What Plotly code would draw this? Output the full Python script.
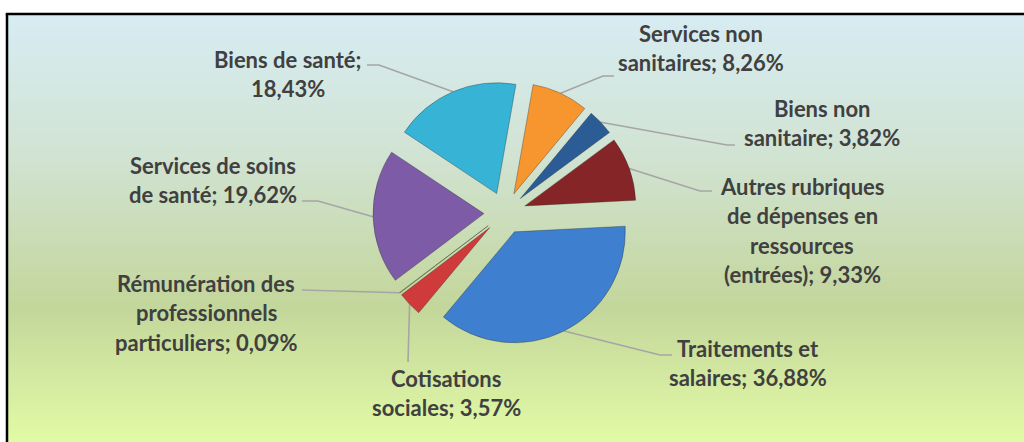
import math
import plotly.graph_objects as go

# ---------------- data ----------------
categories = [
    "Services non sanitaires",
    "Biens non sanitaire",
    "Autres rubriques de dépenses en ressources (entrées)",
    "Traitements et salaires",
    "Cotisations sociales",
    "Rémunération des professionnels particuliers",
    "Services de soins de santé",
    "Biens de santé",
]
values = [8.26, 3.82, 9.33, 36.88, 3.57, 0.09, 19.62, 18.43]

# label text, split over lines ("{v}" is replaced by the formatted value)
label_lines = [
    ["Services non", "sanitaires; {v}"],
    ["Biens non", "sanitaire; {v}"],
    ["Autres rubriques", "de dépenses en", "ressources", "(entrées); {v}"],
    ["Traitements et", "salaires; {v}"],
    ["Cotisations", "sociales; {v}"],
    ["Rémunération des", "professionnels", "particuliers; {v}"],
    ["Services de soins", "de santé; {v}"],
    ["Biens de santé;", "{v}"],
]

# ---------------- styling / layout ----------------
colors = ["#f7962f", "#2b5c96", "#862527", "#3f7fcf",
          "#cf3b3b", "#9bbb59", "#7d5ba6", "#37b3d5"]

W, H = 1024, 442
CX, CY = 505, 213          # pie centre (px)
R_DOM = 132                # half size of the pie domain (px)
PULL = 0.19
ROT = 10                   # degrees, clockwise from 12 o'clock
R = R_DOM / (1 + PULL)

# label placement: (centre x, y of first line)
label_pos = [(701, 33), (822, 108), (802, 186), (748, 348),
             (446, 378), (206, 283), (213, 165), (288, 59)]
LINE_H = 29.5
# leader line: label-side start point and optional elbow
leader_start = [(614, 76), (735, 145), (712, 191), (672, 355),
                (408, 362), (302, 290), (302, 201), (367, 65)]
leader_elbow = [(603, 76), (727, 145), (700, 191), (660, 355),
                None, None, (318, 201), (379, 65)]

fig = go.Figure()

# leader lines on a pixel-coordinate overlay axis
total = sum(values)
lx, ly = [], []
cum = 0.0
for i, v in enumerate(values):
    mid = math.radians(ROT + (cum + v / 2) / total * 360)
    cum += v
    d = R * (1 + PULL)
    ax_, ay_ = CX + d * math.sin(mid), CY - d * math.cos(mid)
    pts = [leader_start[i]]
    if leader_elbow[i] is not None:
        pts.append(leader_elbow[i])
    pts.append((ax_, ay_))
    for p in pts:
        lx.append(p[0]); ly.append(p[1])
    lx.append(None); ly.append(None)

fig.add_trace(go.Scatter(x=lx, y=ly, mode="lines",
                         line=dict(color="#a5a5a5", width=1.6),
                         hoverinfo="skip", showlegend=False))

fig.add_trace(go.Pie(
    labels=categories, values=values, sort=False, direction="clockwise",
    rotation=ROT, pull=[PULL] * len(values),
    marker=dict(colors=colors, line=dict(color="rgba(40,40,40,0.35)", width=1)),
    textinfo="none", hoverinfo="label+percent", showlegend=False,
    domain=dict(x=[(CX - R_DOM) / W, (CX + R_DOM) / W],
                y=[(H - CY - R_DOM) / H, (H - CY + R_DOM) / H]),
))

# labels
for i, lines in enumerate(label_lines):
    vtxt = f"{values[i]:.2f}".replace(".", ",") + "%"
    x0, y0 = label_pos[i]
    for k, ln in enumerate(lines):
        fig.add_annotation(x=x0, y=y0 + k * LINE_H, xref="x", yref="y",
                           text=ln.replace("{v}", vtxt), showarrow=False,
                           xanchor="center", yanchor="middle",
                           font=dict(family="Lato", size=22, color="#404040",
                                     weight="bold"))

# background gradient (paper coordinates, y measured from the bottom)
stops = [(0.0, (215, 236, 243)), (0.33, (209, 227, 210)),
         (0.68, (195, 214, 155)), (1.0, (226, 251, 166))]


def col_at(t):
    for (t0, c0), (t1, c1) in zip(stops[:-1], stops[1:]):
        if t <= t1:
            f = (t - t0) / (t1 - t0)
            return "rgb(%d,%d,%d)" % tuple(round(a + (b - a) * f) for a, b in zip(c0, c1))
    return "rgb(%d,%d,%d)" % stops[-1][1]


TOP = 14
LEFT = 7
BW = 2.5   # frame thickness


def px(xp):
    return xp / W


def py(yp):
    return 1 - yp / H


shapes = []
step = 3
y = TOP
while y < H:
    t = (y - TOP) / (H - TOP)
    y1 = min(y + step + 0.5, H)
    shapes.append(dict(type="rect", xref="paper", yref="paper",
                       x0=px(LEFT), x1=1.0, y0=py(y), y1=py(y1),
                       fillcolor=col_at(t), line=dict(width=0), layer="below"))
    y += step
# frame: top and left edges only
shapes.append(dict(type="line", xref="paper", yref="paper",
                   x0=px(LEFT - BW / 2), x1=1.0, y0=py(TOP), y1=py(TOP),
                   line=dict(color="black", width=BW), layer="above"))
shapes.append(dict(type="line", xref="paper", yref="paper",
                   x0=px(LEFT), x1=px(LEFT), y0=py(TOP), y1=0.0,
                   line=dict(color="black", width=BW), layer="above"))

fig.update_layout(
    width=W, height=H, margin=dict(l=0, r=0, t=0, b=0),
    paper_bgcolor="white", plot_bgcolor="rgba(0,0,0,0)",
    xaxis=dict(range=[0, W], visible=False, fixedrange=True, domain=[0, 1]),
    yaxis=dict(range=[H, 0], visible=False, fixedrange=True, domain=[0, 1]),
    shapes=shapes,
)

fig.write_html(
    "out.html",
    config={"displayModeBar": False},
    post_script=(
        "document.documentElement.style.margin='0';"
        "document.documentElement.style.overflow='hidden';"
        "document.body.style.margin='0';"
        "document.body.style.overflow='hidden';"
    ),
)
